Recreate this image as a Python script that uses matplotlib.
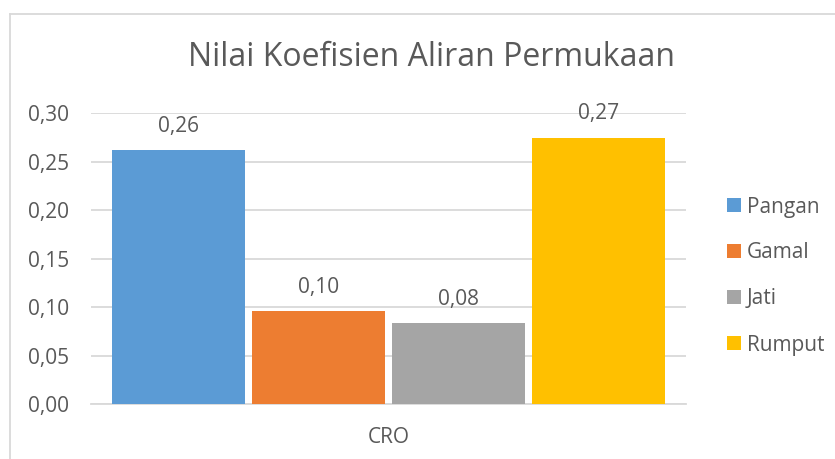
import matplotlib
matplotlib.use("Agg")
import matplotlib.pyplot as plt
from matplotlib.patches import Patch
from matplotlib.lines import Line2D

plt.rcParams['font.family'] = ['Open Sans', 'DejaVu Sans']

title = "Nilai Koefisien Aliran Permukaan"
category = "CRO"
series = ["Pangan", "Gamal", "Jati", "Rumput"]
values = [0.262, 0.096, 0.084, 0.275]
value_labels = ["0,26", "0,10", "0,08", "0,27"]
yticks = [0.00, 0.05, 0.10, 0.15, 0.20, 0.25, 0.30]
ytick_labels = ["0,00", "0,05", "0,10", "0,15", "0,20", "0,25", "0,30"]
colors = ["#5b9bd5", "#ed7d31", "#a5a5a5", "#ffc000"]

W, H = 835, 459
fig = plt.figure(figsize=(W / 100, H / 100), dpi=100)
ax = fig.add_axes([91 / W, 1 - 404.3 / H, (686 - 91) / W, (404.3 - 113.3) / H])

text_color = "#595959"
grid_color = "#d9d9d9"
fs = 15

xs = list(range(len(series)))
bars = ax.bar(xs, values, width=0.957, color=colors, zorder=3)
for x, v, lab in zip(xs, values, value_labels):
    ax.annotate(lab, (x, v), xytext=(0, 13), textcoords="offset points",
                ha="center", va="baseline", fontsize=fs, color=text_color)

ax.set_xlim(-0.625, 3.625)
ax.set_ylim(0, 0.30)
ax.set_yticks(yticks)
ax.set_yticklabels(ytick_labels)
ax.set_xticks([1.5])
ax.set_xticklabels([category])
ax.tick_params(axis="y", length=0, pad=16, labelsize=fs, labelcolor=text_color)
ax.tick_params(axis="x", length=0, pad=16, labelsize=fs, labelcolor=text_color)
ax.yaxis.grid(True, color=grid_color, linewidth=1.3, zorder=0)
ax.set_axisbelow(True)
for s in ["top", "right", "left"]:
    ax.spines[s].set_visible(False)
ax.spines["bottom"].set_color(grid_color)
ax.spines["bottom"].set_linewidth(1.3)

fig.text(431.5 / W, 1 - 58 / H, title, ha="center", va="center",
         fontsize=23, color=text_color)

handles = [Patch(facecolor=c, edgecolor="none") for c in colors]
fig.legend(handles, series, loc="center left", bbox_to_anchor=(727 / W, 1 - 276 / H),
           frameon=False, fontsize=fs, labelcolor=text_color,
           handlelength=0.68, handleheight=0.68, handletextpad=0.28,
           labelspacing=1.2, borderpad=0, borderaxespad=0)

# chart area border
fig.add_artist(Line2D([9.5 / W, 9.5 / W], [0, 1 - 14 / H], transform=fig.transFigure,
                      color=grid_color, linewidth=1.3))
fig.add_artist(Line2D([9.5 / W, 1], [1 - 14 / H, 1 - 14 / H], transform=fig.transFigure,
                      color=grid_color, linewidth=1.3))

fig.savefig("out.png", dpi=100)
